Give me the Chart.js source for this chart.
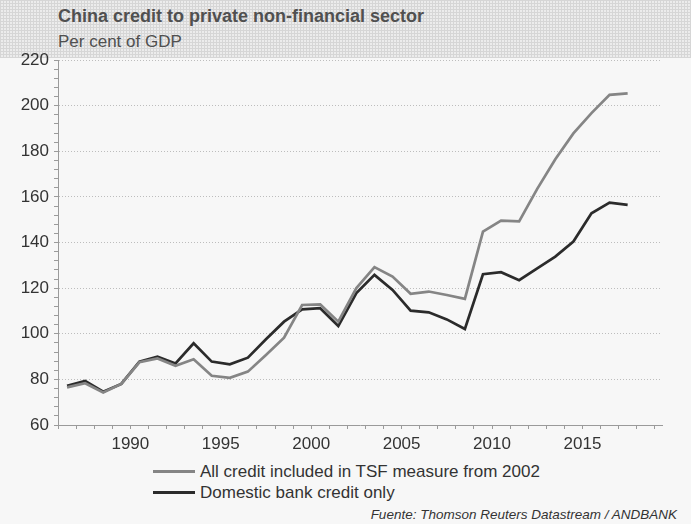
<!DOCTYPE html>
<html>
<head>
<meta charset="utf-8">
<script src="https://cdn.jsdelivr.net/npm/chart.js@4"></script>
<style>
    html, body {
        margin: 0;
        padding: 0;
        width: 691px;
        height: 524px;
        background: #f7f7f7;
        font-family: 'Liberation Sans', Arial, sans-serif;
        overflow: hidden;
    }
    .header {
        position: absolute;
        left: 0; top: 0;
        width: 691px; height: 58px;
        background-color: #ececec;
        background-image:
            repeating-linear-gradient(0deg, #d6d6d6 0px, #d6d6d6 1px, transparent 1px, transparent 3px),
            repeating-linear-gradient(90deg, #d6d6d6 0px, #d6d6d6 1px, transparent 1px, transparent 3px);
    }
    .title {
        position: absolute;
        left: 58px; top: 6px;
        font-size: 18px;
        font-weight: bold;
        color: #505050;
        white-space: nowrap;
    }
    .subtitle {
        position: absolute;
        left: 58px; top: 32px;
        font-size: 17px;
        color: #505050;
        white-space: nowrap;
    }
    .chart-box {
        position: absolute;
        left: 0; top: 0;
        width: 691px; height: 460px;
    }
    .legend {
        position: absolute;
        left: 153px; top: 461px;
        font-size: 17px;
        color: #333;
    }
    .legend div { height: 21px; line-height: 21px; white-space: nowrap; }
    .legend span.swatch {
        display: inline-block;
        width: 42px; height: 3px;
        vertical-align: middle;
        margin-right: 5px;
        position: relative; top: -1px;
    }
    .source {
        position: absolute;
        right: 14px; top: 507px;
        font-size: 13.5px;
        font-style: italic;
        color: #333;
        white-space: nowrap;
    }
</style>
</head>
<body>
<div class="header"></div>
<div class="title">China credit to private non-financial sector</div>
<div class="subtitle">Per cent of GDP</div>
<div class="chart-box"><canvas id="chart"></canvas></div>
<div class="legend" id="legend"></div>
<div class="source">Fuente: Thomson Reuters Datastream / ANDBANK</div>

<script>
const years = [
    1986, 1987, 1988, 1989, 1990, 1991, 1992, 1993, 1994, 1995, 1996,
    1997, 1998, 1999, 2000, 2001, 2002, 2003, 2004, 2005, 2006, 2007,
    2008, 2009, 2010, 2011, 2012, 2013, 2014, 2015, 2016, 2017
];

// All credit included in TSF measure from 2002
const tsfCredit = [
    76.5, 78.3, 74.3, 78.0, 87.5, 89.2, 86.0, 88.8, 81.6, 80.7, 83.4,
    90.7, 98.3, 112.6, 112.9, 105.3, 120.0, 129.2, 125.1, 117.5, 118.5, 117.0,
    115.3, 144.8, 149.6, 149.3, 163.5, 176.5, 187.8, 196.7, 204.7, 205.4
];

// Domestic bank credit only
const bankCredit = [
    77.2, 79.3, 74.6, 78.0, 87.8, 90.0, 87.0, 95.8, 87.8, 86.6, 89.5,
    97.6, 105.3, 110.7, 111.2, 103.4, 117.8, 125.8, 119.2, 110.1, 109.4, 106.3,
    102.1, 126.1, 127.0, 123.5, 128.7, 133.8, 140.4, 152.8, 157.5, 156.5
];

const seriesLabels = ['All credit included in TSF measure from 2002', 'Domestic bank credit only'];
const seriesColors = ['#858585', '#2b2b2b'];

const yTicks = { min: 60, max: 220, major: 20, minor: 4 };
const xTicks = { min: 1986, max: 2019.4, major: 5, minor: 1 };

Chart.defaults.font.family = "'Liberation Sans', Arial, sans-serif";

// annual values are plotted at mid-year
function toPoints(values) {
    return values.map((v, i) => ({ x: years[i] + 0.5, y: v }));
}

const ctx = document.getElementById('chart').getContext('2d');
new Chart(ctx, {
    type: 'line',
    data: {
        datasets: [
            {
                label: seriesLabels[0],
                data: toPoints(tsfCredit),
                borderColor: seriesColors[0],
                backgroundColor: seriesColors[0],
                borderWidth: 2.7,
                pointRadius: 0,
                tension: 0
            },
            {
                label: seriesLabels[1],
                data: toPoints(bankCredit),
                borderColor: seriesColors[1],
                backgroundColor: seriesColors[1],
                borderWidth: 2.7,
                pointRadius: 0,
                tension: 0
            }
        ]
    },
    options: {
        responsive: true,
        maintainAspectRatio: false,
        animation: false,
        layout: { padding: { top: 60, right: 29, left: 0, bottom: 0 } },
        plugins: {
            legend: { display: false },
            tooltip: { enabled: false }
        },
        scales: {
            x: {
                type: 'linear',
                min: xTicks.min,
                max: xTicks.max,
                afterFit: function (scale) { scale.height = 35; },
                ticks: {
                    stepSize: xTicks.minor,
                    autoSkip: false,
                    includeBounds: false,
                    maxRotation: 0,
                    padding: 5,
                    color: '#333',
                    font: { size: 17 },
                    callback: function (value) {
                        return value % xTicks.major === 0 ? String(value) : '';
                    }
                },
                grid: {
                    drawOnChartArea: false,
                    color: '#9a9a9a',
                    tickLength: 4
                },
                border: { color: '#9a9a9a', width: 1 }
            },
            y: {
                min: yTicks.min,
                max: yTicks.max,
                afterFit: function (scale) { scale.width = 58; },
                ticks: {
                    stepSize: yTicks.minor,
                    autoSkip: false,
                    padding: 5,
                    color: '#333',
                    font: { size: 17 },
                    callback: function (value) {
                        return value % yTicks.major === 0 ? String(value) : '';
                    }
                },
                grid: {
                    color: function (c) {
                        if (c.tick && c.tick.value % yTicks.major === 0 && c.tick.value !== yTicks.min) {
                            return '#bdbdbd';
                        }
                        return 'rgba(0,0,0,0)';
                    },
                    tickColor: '#9a9a9a',
                    tickLength: 4,
                    tickBorderDash: []
                },
                // in v4 the grid line dash is read from the border options
                border: { color: '#9a9a9a', width: 1, dash: [1, 2] }
            }
        }
    }
});

const legendBox = document.getElementById('legend');
seriesLabels.forEach(function (label, i) {
    const row = document.createElement('div');
    const sw = document.createElement('span');
    sw.className = 'swatch';
    sw.style.background = seriesColors[i];
    row.appendChild(sw);
    row.appendChild(document.createTextNode(label));
    legendBox.appendChild(row);
});
</script>
</body>
</html>
